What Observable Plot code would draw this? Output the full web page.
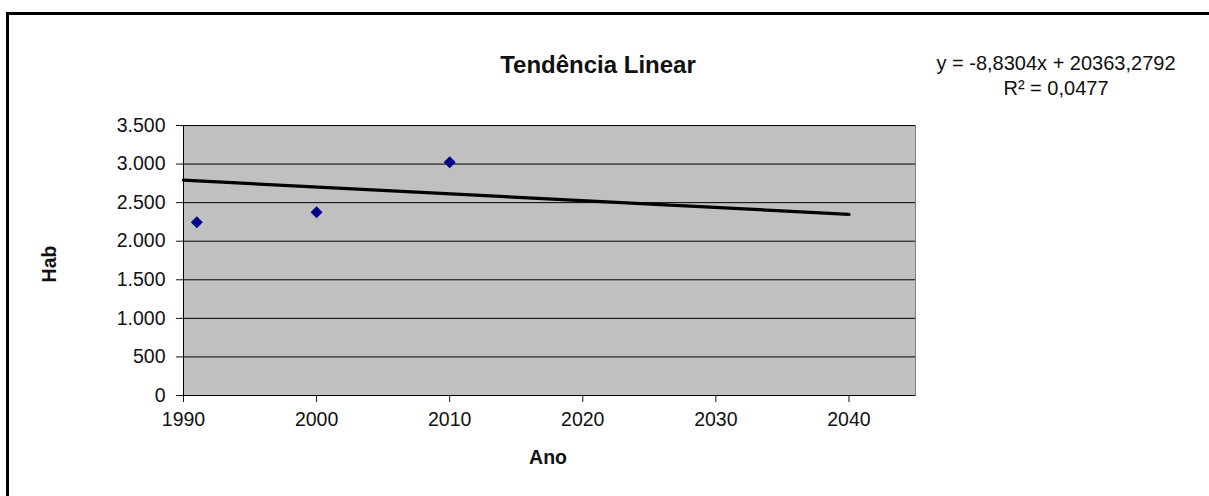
<!DOCTYPE html>
<html>
<head>
<meta charset="utf-8">
<script src="https://cdn.jsdelivr.net/npm/d3@7"></script>
<script src="https://cdn.jsdelivr.net/npm/@observablehq/plot@0.6"></script>
<style>
  html, body { margin: 0; padding: 0; background: #fff; overflow: hidden; }
  #wrap { position: relative; width: 1209px; height: 496px; overflow: hidden; font-family: "Liberation Sans", Arial, sans-serif; color: #111; }
  #chart { position: absolute; left: 0; top: 0; }
  #border { position: absolute; left: 6px; top: 12px; width: 1200px; height: 481px; border-left: 3px solid #000; border-top: 3px solid #000; pointer-events: none; }
  .t { position: absolute; white-space: nowrap; transform: translate(-50%, -50%); }
  #title { left: 598px; top: 65px; font-size: 24px; font-weight: bold; }
  #eq { left: 1056px; top: 76px; font-size: 20px; line-height: 24.6px; text-align: center; }
  #ylab { left: 49px; top: 264px; font-size: 19.5px; font-weight: bold; transform: translate(-50%, -50%) rotate(-90deg); }
  #xlab { left: 548px; top: 457px; font-size: 19.5px; font-weight: bold; }
</style>
</head>
<body>
<div id="wrap">
  <div id="chart"></div>
  <div id="border"></div>
  <div class="t" id="title">Tendência Linear</div>
  <div class="t" id="eq">y = -8,8304x + 20363,2792<br>R² = 0,0477</div>
  <div class="t" id="ylab">Hab</div>
  <div class="t" id="xlab">Ano</div>
</div>
<script>
// Data
const years = [1991, 2000, 2010];
const hab = [2247, 2376, 3025];
const trendYears = [1990, 2040];
const trendHab = [2791, 2349];
const xTicks = [1990, 2000, 2010, 2020, 2030, 2040];
const yTicks = [0, 500, 1000, 1500, 2000, 2500, 3000, 3500];

const points = years.map((y, i) => ({ano: y, hab: hab[i]}));
const trend = trendYears.map((y, i) => ({ano: y, hab: trendHab[i]}));

const pt = d3.formatLocale({decimal: ",", thousands: ".", grouping: [3], currency: ["R$", ""]});
const fmtY = pt.format(",d");

const chart = Plot.plot({
  width: 1209,
  height: 496,
  marginLeft: 183,
  marginRight: 294,
  marginTop: 125,
  marginBottom: 101,
  style: {fontFamily: "'Liberation Sans', Arial, sans-serif", fontSize: "19.5px", color: "#111", background: "transparent"},
  x: {domain: [1990, 2045], ticks: xTicks, tickFormat: "d", label: null},
  y: {domain: [0, 3500], ticks: yTicks, tickFormat: fmtY, label: null},
  marks: [
    Plot.frame({fill: "#C0C0C0", stroke: "#808080"}),
    Plot.gridY(yTicks, {stroke: "#000", strokeOpacity: 1, strokeWidth: 1}),
    Plot.axisX({ticks: xTicks, tickFormat: "d", tickSize: 7, tickPadding: 10, label: null}),
    Plot.axisY({ticks: yTicks, tickFormat: fmtY, tickSize: 7, tickPadding: 11, label: null}),
    Plot.ruleX([1990], {stroke: "#000"}),
    Plot.ruleY([0], {stroke: "#000"}),
    Plot.line(trend, {x: "ano", y: "hab", stroke: "#000", strokeWidth: 3.3}),
    Plot.dot(points, {x: "ano", y: "hab", symbol: "diamond2", r: 5.4, fill: "#00008B", stroke: "none"})
  ]
});
document.getElementById("chart").appendChild(chart);
</script>
</body>
</html>
